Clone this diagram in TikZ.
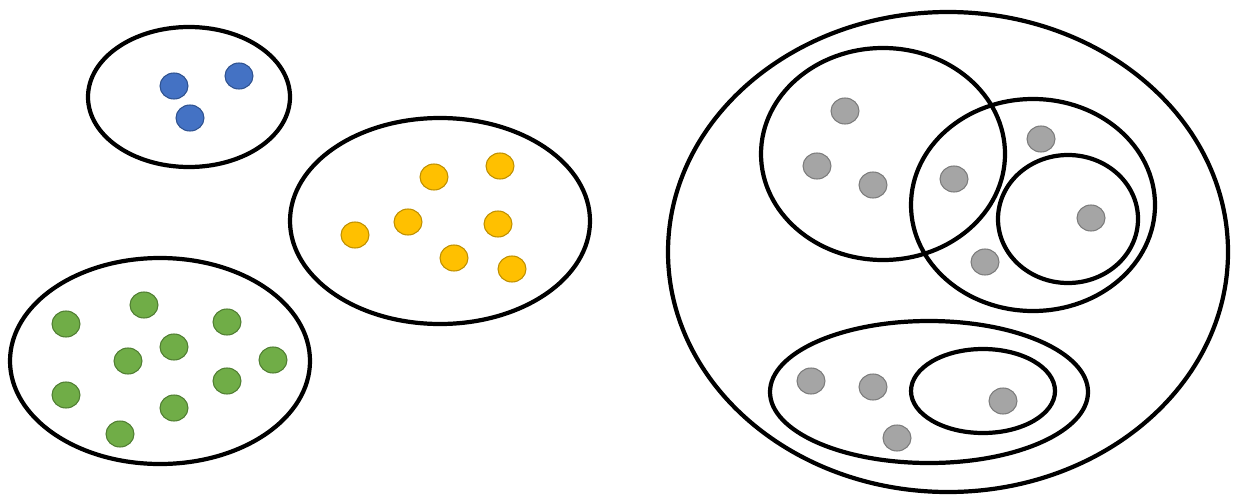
\documentclass[tikz,border=0pt]{standalone}
\usepackage{tikz}
\definecolor{dotblue}{HTML}{4472C4}\definecolor{dotblueline}{HTML}{2F528F}
\definecolor{dotyellow}{HTML}{FFC000}\definecolor{dotyellowline}{HTML}{BF9000}
\definecolor{dotgreen}{HTML}{70AD47}\definecolor{dotgreenline}{HTML}{507E32}
\definecolor{dotgray}{HTML}{A5A5A5}\definecolor{dotgrayline}{HTML}{7C7C7C}

\begin{document}
\begin{tikzpicture}[x=0.02cm,y=-0.02cm,set/.style={line width=2.4pt,black},dot/.style={line width=0.6pt}]
\useasboundingbox (0,0) rectangle (1240,497);
% left side: three separate sets
\draw[set] (189,97) ellipse (101 and 70);
\draw[set] (440,221) ellipse (150 and 103);
\draw[set] (160,361) ellipse (150 and 103);
\foreach \x/\y in {174/86,239/76,190/118}{\draw[dot,fill=dotblue,draw=dotblueline] (\x,\y) ellipse (14 and 13);}
\foreach \x/\y in {434/177,500/166,408/222,498/224,355/235,454/258,512/269}{\draw[dot,fill=dotyellow,draw=dotyellowline] (\x,\y) ellipse (14 and 13);}
\foreach \x/\y in {66/324,144/305,227/322,128/361,174/347,273/360,66/395,227/381,174/408,120/434}{\draw[dot,fill=dotgreen,draw=dotgreenline] (\x,\y) ellipse (14 and 13);}
% right side: nested sets
\draw[set] (948,252) ellipse (280 and 240);
\draw[set] (883,154) ellipse (122 and 106);
\draw[set] (1033,205) ellipse (122 and 106);
\draw[set] (1068,219) ellipse (70 and 64);
\draw[set] (929,392) ellipse (159 and 71);
\draw[set] (983,391) ellipse (72 and 42);
\foreach \x/\y in {845/111,817/166,873/185,954/179,1041/139,1091/218,985/262,811/381,873/387,1003/401,897/438}{\draw[dot,fill=dotgray,draw=dotgrayline] (\x,\y) ellipse (14 and 13);}
\end{tikzpicture}
\end{document}
